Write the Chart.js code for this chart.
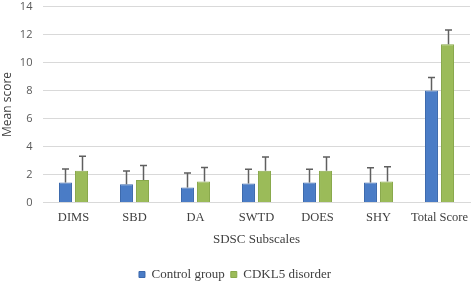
<!DOCTYPE html>
<html><head><meta charset="utf-8">
<script src="https://cdn.jsdelivr.net/npm/chart.js@4/dist/chart.umd.min.js"></script>
<style>html,body{margin:0;padding:0;background:#fff}#wrap{width:472px;height:283px}</style>
</head><body><div id="wrap"><canvas id="c" width="472" height="283"></canvas></div>
<script>
const categories = ['DIMS','SBD','DA','SWTD','DOES','SHY','Total Score'];
const controlMeans = [1.43, 1.31, 1.07, 1.36, 1.43, 1.43, 8.0];
const controlSD = [0.97, 0.93, 1.03, 1.02, 0.95, 1.05, 0.93];
const cdklMeans = [2.26, 1.6, 1.5, 2.26, 2.26, 1.5, 11.29];
const cdklSD = [1.04, 1.04, 1.0, 0.98, 0.98, 1.05, 1.02];
const yTicks = [0,2,4,6,8,10,12,14];

const errs = [controlSD, cdklSD];
const errorBars = {
  id: 'errorBars',
  afterDatasetsDraw(chart) {
    const ctx = chart.ctx, ys = chart.scales.y;
    ctx.save();
    ctx.strokeStyle = '#5f5f5f';
    ctx.lineWidth = 1.5;
    chart.data.datasets.forEach((ds, di) => {
      const meta = chart.getDatasetMeta(di);
      meta.data.forEach((bar, i) => {
        const top = ys.getPixelForValue(ds.data[i] + errs[di][i]);
        const x = Math.round(bar.x) + 0.5;
        ctx.beginPath();
        ctx.moveTo(x, bar.y);
        ctx.lineTo(x, top);
        ctx.moveTo(x - 3.5, top);
        ctx.lineTo(x + 3.5, top);
        ctx.stroke();
      });
    });
    ctx.restore();
  }
};

new Chart(document.getElementById('c'), {
  type: 'bar',
  data: {
    labels: categories,
    datasets: [
      {label: 'Control group', data: controlMeans, backgroundColor: '#4a7cc6', borderColor: '#3c69ad', borderWidth: 1},
      {label: 'CDKL5 disorder', data: cdklMeans, backgroundColor: '#9bbb59', borderColor: '#88a84a', borderWidth: 1}
    ]
  },
  options: {
    responsive: false,
    animation: false,
    devicePixelRatio: 1,
    layout: {padding: {left: 0, right: 2, top: 0, bottom: -8}},
    datasets: {bar: {categoryPercentage: 0.525, barPercentage: 0.81}},
    plugins: {
      tooltip: {enabled: false},
      legend: {
        position: 'bottom',
        labels: {
          boxWidth: 6, boxHeight: 6, padding: 6,
          color: '#404040',
          font: {family: 'Liberation Serif', size: 13}
        }
      }
    },
    scales: {
      x: {
        afterFit(s) { s.paddingLeft = 0; s.paddingRight = 0; },
        grid: {display: false, drawTicks: false},
        border: {display: true, color: '#d9d9d9', width: 1},
        ticks: {color: '#404040', font: {family: 'Liberation Serif', size: 12.5, lineHeight: 1}, padding: 9, maxRotation: 0},
        title: {display: true, text: 'SDSC Subscales', color: '#404040', font: {family: 'Liberation Serif', size: 13, lineHeight: 1}, padding: {top: 0, bottom: 16}}
      },
      y: {
        min: 0, max: 14,
        afterBuildTicks(s) { s.ticks = yTicks.map(v => ({value: v})); },
        afterFit(s) { s.width = 43; },
        grid: {color: '#d9d9d9', lineWidth: 1, drawTicks: false},
        border: {display: false},
        ticks: {color: '#595959', font: {family: 'Open Sans', size: 11, lineHeight: 0.8}, padding: 2,
          callback: (v) => v + '   '},
        title: {display: true, text: 'Mean score', color: '#404040', font: {family: 'Open Sans', size: 12}, padding: {top: 0, bottom: 2}}
      }
    }
  },
  plugins: [errorBars]
});
</script></body></html>
